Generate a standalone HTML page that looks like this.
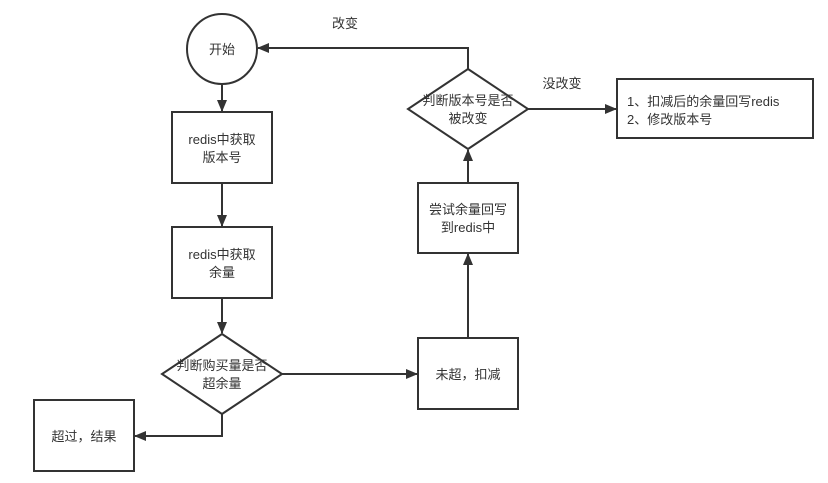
<!DOCTYPE html>
<html><head><meta charset="utf-8"><style>
html,body{margin:0;padding:0;background:#fff;}
svg text{font-family:"Liberation Sans","Noto Sans CJK SC",sans-serif;font-size:13px;fill:#333;}
</style></head><body>
<svg width="828" height="478" viewBox="0 0 828 478" xmlns="http://www.w3.org/2000/svg">
<defs><marker id="a" markerWidth="12" markerHeight="10" refX="11" refY="5" orient="auto" markerUnits="userSpaceOnUse"><path d="M0,0 L12,5 L0,10 Z" fill="#333"/></marker></defs>
<g stroke="#333" stroke-width="2" fill="#fff">
<circle cx="222" cy="49" r="35"/>
<rect x="172" y="112" width="100" height="71"/>
<rect x="172" y="227" width="100" height="71"/>
<polygon points="222,334 282,374 222,414 162,374"/>
<rect x="34" y="400" width="100" height="71"/>
<rect x="418" y="338" width="100" height="71"/>
<rect x="418" y="183" width="100" height="70"/>
<polygon points="468,69 528,109 468,149 408,109"/>
<rect x="617" y="79" width="196" height="59"/>
</g>
<g stroke="#333" stroke-width="2" fill="none">
<line x1="222" y1="84" x2="222" y2="111" marker-end="url(#a)"/>
<line x1="222" y1="183" x2="222" y2="226" marker-end="url(#a)"/>
<line x1="222" y1="298" x2="222" y2="333" marker-end="url(#a)"/>
<polyline points="222,414 222,436 135,436" marker-end="url(#a)"/>
<line x1="282" y1="374" x2="417" y2="374" marker-end="url(#a)"/>
<line x1="468" y1="338" x2="468" y2="254" marker-end="url(#a)"/>
<line x1="468" y1="183" x2="468" y2="150" marker-end="url(#a)"/>
<polyline points="468,69 468,48 258,48" marker-end="url(#a)"/>
<line x1="528" y1="109" x2="616" y2="109" marker-end="url(#a)"/>
</g>
<g text-anchor="middle">
<text x="222" y="54">开始</text>
<text x="222" y="144">redis中获取</text><text x="222" y="162">版本号</text>
<text x="222" y="259">redis中获取</text><text x="222" y="277">余量</text>
<text x="222" y="370">判断购买量是否</text><text x="222" y="388">超余量</text>
<text x="84" y="441">超过，结果</text>
<text x="468" y="379">未超，扣减</text>
<text x="468" y="214">尝试余量回写</text><text x="468" y="232">到redis中</text>
<text x="468" y="105">判断版本号是否</text><text x="468" y="123">被改变</text>
<text x="345" y="28">改变</text>
<text x="562" y="88">没改变</text>
</g>
<text x="627" y="106">1、扣减后的余量回写redis</text>
<text x="627" y="124">2、修改版本号</text>
</svg>
</body></html>
